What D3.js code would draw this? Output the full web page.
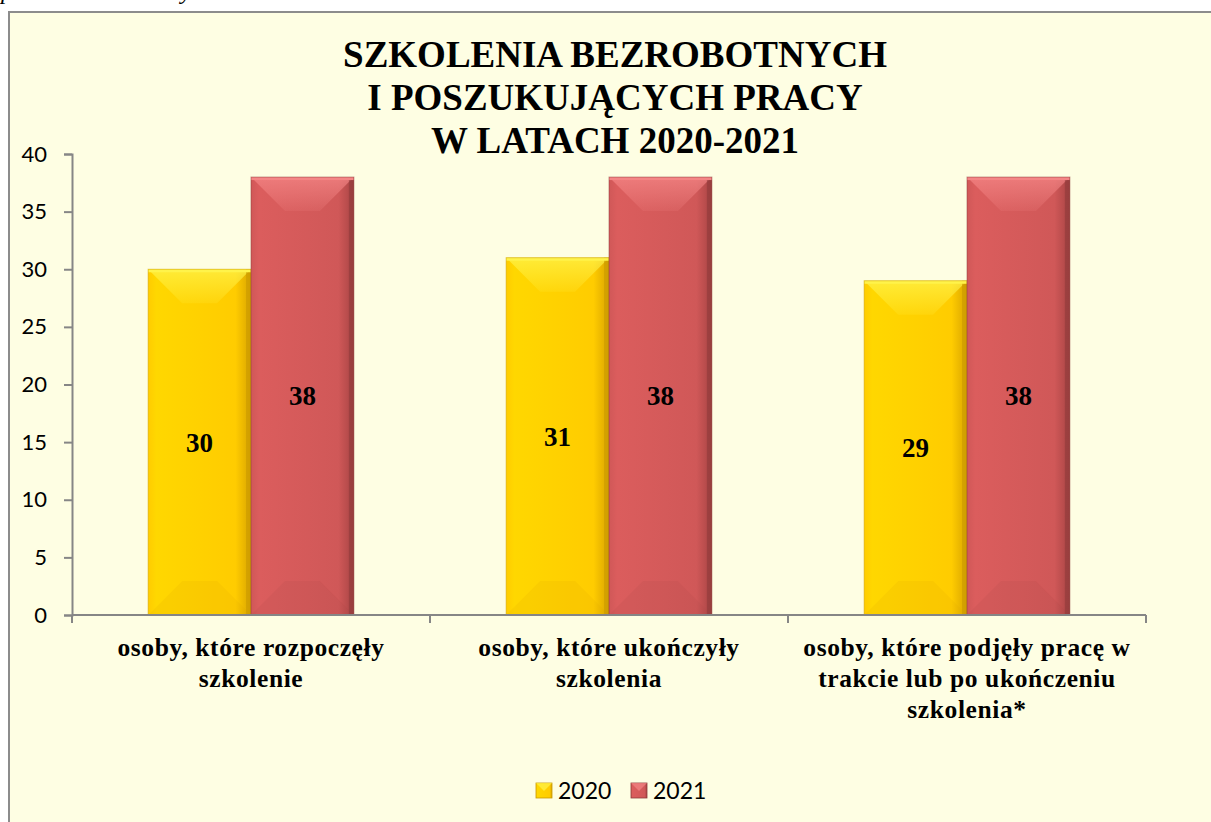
<!DOCTYPE html>
<html>
<head>
<meta charset="utf-8">
<script src="https://cdn.jsdelivr.net/npm/d3@7"></script>
<style>
  body { margin: 0; background: #ffffff; }
  svg { display: block; }
</style>
</head>
<body>
<svg id="chart" width="1211" height="822"></svg>
<script>
// data
var categories = [
    ["osoby, które rozpoczęły", "szkolenie"],
    ["osoby, które ukończyły", "szkolenia"],
    ["osoby, które podjęły pracę w", "trakcie lub po ukończeniu", "szkolenia*"]
];
var seriesNames = ["2020", "2021"];
var values2020 = [30, 31, 29];
var values2021 = [38, 38, 38];
var yTicks = [0, 5, 10, 15, 20, 25, 30, 35, 40];
var titleLines = ["SZKOLENIA BEZROBOTNYCH", "I POSZUKUJĄCYCH PRACY", "W LATACH 2020-2021"];

var svg = d3.select('#chart');
var W = +svg.attr('width');
var H = +svg.attr('height');

var serif = "'Liberation Serif', 'Times New Roman', serif";
var sans = "Lato, Carlito, 'Open Sans', sans-serif";

// colours: base, light, dark for the bevel look
var colors = [
    {base: '#ffcc00', light: '#fff34a', dark: '#d9a400', edge: '#c99a00'},
    {base: '#d05858', light: '#f48686', dark: '#a84444', edge: '#8e3a3a'}
];

// italic text cut off at the top of the page
svg.append('text').attr('x', 1).attr('y', -1)
    .attr('font-family', serif).attr('font-style', 'italic').attr('font-size', 24)
    .text('p');
svg.append('text').attr('x', 181).attr('y', -1)
    .attr('font-family', serif).attr('font-style', 'italic').attr('font-size', 24)
    .text('y');

// chart area background
svg.append('rect')
    .attr('x', 9).attr('y', 12)
    .attr('width', W + 10).attr('height', H + 10)
    .attr('fill', '#fefee3')
    .attr('stroke', '#8c8c8c')
    .attr('stroke-width', 2);

var defs = svg.append('defs');
colors.forEach(function(c, i) {
    var g = defs.append('linearGradient').attr('id', 'grad' + i)
        .attr('x1', '0%').attr('x2', '100%').attr('y1', '0%').attr('y2', '0%');
    g.append('stop').attr('offset', '0%').attr('stop-color', c.base);
    g.append('stop').attr('offset', '8%').attr('stop-color', d3.color(c.base).brighter(0.15));
    g.append('stop').attr('offset', '85%').attr('stop-color', c.base);
    g.append('stop').attr('offset', '100%').attr('stop-color', c.dark);
    var t = defs.append('linearGradient').attr('id', 'top' + i)
        .attr('x1', '0%').attr('x2', '0%').attr('y1', '0%').attr('y2', '100%');
    t.append('stop').attr('offset', '0%').attr('stop-color', c.light).attr('stop-opacity', 1);
    t.append('stop').attr('offset', '100%').attr('stop-color', c.light).attr('stop-opacity', 0.2);
});

// scales
var plot = {l: 72, r: 1146, t: 154, b: 615};

var x0 = d3.scaleBand()
    .domain(d3.range(categories.length))
    .range([plot.l, plot.r])
    .paddingInner(0)
    .paddingOuter(0);

var x1 = d3.scaleBand()
    .domain(seriesNames)
    .range([0, x0.bandwidth()])
    .paddingOuter(0.74)
    .paddingInner(0);

var y = d3.scaleLinear().domain([0, 40]).range([plot.b, plot.t]);

// y axis
var yAxis = d3.axisLeft(y).tickValues(yTicks).tickSize(8).tickPadding(17);
var gy = svg.append('g').attr('transform', 'translate(' + plot.l + ',0)').call(yAxis);
gy.select('.domain').attr('stroke', '#868686').attr('stroke-width', 2);
gy.selectAll('.tick line').attr('stroke', '#868686').attr('stroke-width', 2);
gy.selectAll('.tick text')
    .attr('font-family', sans).attr('font-size', 22).attr('fill', '#000');

// bars
var data = [];
categories.forEach(function(c, i) {
    data.push({cat: i, s: 0, v: values2020[i]});
    data.push({cat: i, s: 1, v: values2021[i]});
});

var bars = svg.append('g').selectAll('g.bar').data(data).enter()
    .append('g').attr('class', 'bar');

bars.each(function(d) {
    var g = d3.select(this);
    var bx = x0(d.cat) + x1(seriesNames[d.s]);
    var bw = x1.bandwidth();
    var by = y(d.v);
    var bh = y(0) - by;
    var bv = 34; // bevel depth
    var c = colors[d.s];
    g.append('rect').attr('x', bx).attr('y', by).attr('width', bw).attr('height', bh)
        .attr('fill', 'url(#grad' + d.s + ')');
    // top bevel
    g.append('path')
        .attr('d', 'M' + bx + ',' + by + 'H' + (bx + bw) + 'L' + (bx + bw - bv) + ',' + (by + bv) +
              'H' + (bx + bv) + 'Z')
        .attr('fill', 'url(#top' + d.s + ')').attr('opacity', 0.75);
    // bottom bevel
    g.append('path')
        .attr('d', 'M' + bx + ',' + (by + bh) + 'H' + (bx + bw) + 'L' + (bx + bw - bv) + ',' + (by + bh - bv) +
              'H' + (bx + bv) + 'Z')
        .attr('fill', c.dark).attr('opacity', 0.14);
    // right edge
    g.append('rect').attr('x', bx + bw - 5).attr('y', by).attr('width', 5).attr('height', bh)
        .attr('fill', c.edge).attr('opacity', 0.6);
    // thin highlight on top edge
    g.append('rect').attr('x', bx).attr('y', by).attr('width', bw).attr('height', 3)
        .attr('fill', c.light);
    g.append('rect').attr('x', bx).attr('y', by).attr('width', bw).attr('height', bh)
        .attr('fill', 'none').attr('stroke', c.edge).attr('stroke-width', 1).attr('stroke-opacity', 0.5);
    // value label
    g.append('text')
        .attr('x', bx + bw / 2)
        .attr('y', y(d.v / 2))
        .attr('dy', '0.35em')
        .attr('text-anchor', 'middle')
        .attr('font-family', serif).attr('font-weight', 'bold').attr('font-size', 27)
        .attr('fill', '#000')
        .text(d.v);
});

// x axis
var xAxisG = svg.append('g');
xAxisG.append('line').attr('x1', plot.l).attr('x2', plot.r).attr('y1', plot.b).attr('y2', plot.b)
    .attr('stroke', '#868686').attr('stroke-width', 2);
var bounds = d3.range(categories.length + 1).map(function(i) {
    return i < categories.length ? x0(i) : x0(i - 1) + x0.bandwidth();
});
xAxisG.selectAll('line.tick').data(bounds).enter().append('line')
    .attr('x1', function(d) { return d; }).attr('x2', function(d) { return d; })
    .attr('y1', plot.b).attr('y2', plot.b + 8)
    .attr('stroke', '#868686').attr('stroke-width', 2);

// category labels
categories.forEach(function(lines, i) {
    var cx = x0(i) + x0.bandwidth() / 2;
    var t = svg.append('text')
        .attr('x', cx)
        .attr('y', 656)
        .attr('text-anchor', 'middle')
        .attr('font-family', serif).attr('font-weight', 'bold').attr('font-size', 25.5)
        .attr('letter-spacing', 0.6)
        .attr('fill', '#000');
    lines.forEach(function(l, j) {
        t.append('tspan').attr('x', cx).attr('dy', j === 0 ? 0 : 31).text(l);
    });
});

// title
var title = svg.append('text')
    .attr('x', 615).attr('y', 67)
    .attr('text-anchor', 'middle')
    .attr('font-family', serif).attr('font-weight', 'bold').attr('font-size', 37)
    .attr('fill', '#000');
titleLines.forEach(function(l, j) {
    title.append('tspan').attr('x', 615).attr('dy', j === 0 ? 0 : 43).text(l);
});

// legend
var legendX = [536, 631];
seriesNames.forEach(function(s, i) {
    var c = colors[i];
    var lx = legendX[i], ly = 783;
    svg.append('rect').attr('x', lx).attr('y', ly).attr('width', 16).attr('height', 15)
        .attr('fill', 'url(#grad' + i + ')').attr('stroke', c.edge).attr('stroke-width', 0.8);
    svg.append('path')
        .attr('d', 'M' + lx + ',' + ly + 'H' + (lx + 16) + 'L' + (lx + 8) + ',' + (ly + 8) + 'Z')
        .attr('fill', c.light).attr('opacity', 0.7);
    svg.append('text').attr('x', lx + 22).attr('y', ly + 8).attr('dy', '0.36em')
        .attr('font-family', sans).attr('font-size', 23).attr('fill', '#000')
        .text(s);
});
</script>
</body>
</html>
